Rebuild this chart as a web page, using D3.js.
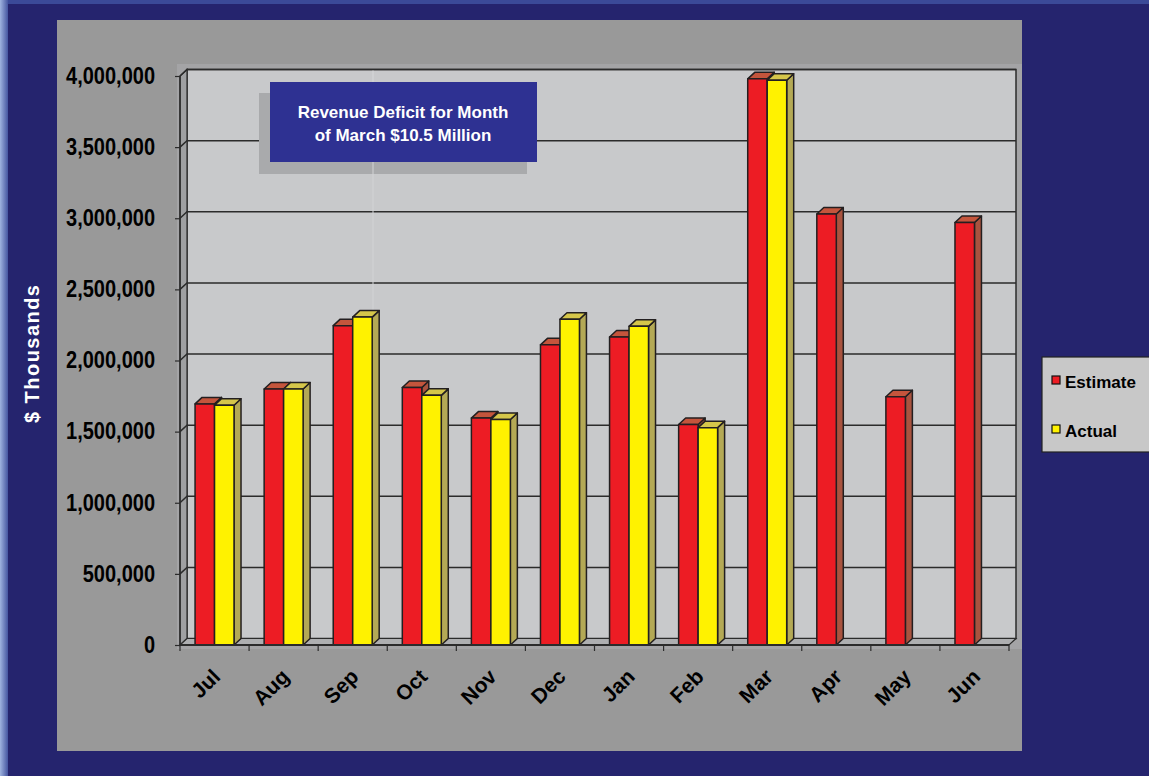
<!DOCTYPE html>
<html>
<head>
<meta charset="utf-8">
<script src="https://cdn.jsdelivr.net/npm/d3@7"></script>
<style>
  body { margin: 0; background: #25246e; }
  svg { display: block; font-family: Arial, "Liberation Sans", sans-serif; font-weight: bold; }
</style>
</head>
<body>
<div id="chart"></div>
<script>
// chart values ($ thousands)
let months = ['Jul', 'Aug', 'Sep', 'Oct', 'Nov', 'Dec', 'Jan', 'Feb', 'Mar', 'Apr', 'May', 'Jun'];
let estimate = [1695000, 1800000, 2245000, 1810000, 1595000, 2110000, 2165000, 1550000, 3980000, 3030000, 1745000, 2970000];
let actual = [1685000, 1800000, 2305000, 1755000, 1585000, 2290000, 2240000, 1528000, 3970000, null, null, null];
let yTicks = [0, 500000, 1000000, 1500000, 2000000, 2500000, 3000000, 3500000, 4000000];
let seriesNames = ['Estimate', 'Actual'];
let noteLines = ['Revenue Deficit for Month', 'of March $10.5 Million'];

let width = 1149,
    height = 776,
    depthX = 7,
    depthY = -6.5;

let colors = {
  Estimate: { front: '#ed1c24', top: '#c4553c', side: '#a9533f' },
  Actual: { front: '#fff200', top: '#d5c64a', side: '#b4a955' }
};

let svg = d3.select('#chart')
  .append('svg')
  .attr('width', width)
  .attr('height', height);

// background with lighter edge strips
let defs = svg.append('defs');
let edge = defs.append('linearGradient').attr('id', 'edge').attr('x1', 0).attr('x2', 1);
edge.append('stop').attr('offset', 0).attr('stop-color', '#9fb3df');
edge.append('stop').attr('offset', 1).attr('stop-color', '#4555a0');

svg.append('rect').attr('width', width).attr('height', height).attr('fill', '#25246e');
svg.append('rect').attr('width', width).attr('height', 4).attr('fill', '#3b4a98');
svg.append('rect').attr('width', 8).attr('height', height).attr('fill', 'url(#edge)');

// gray panel and plot area
svg.append('rect').attr('x', 57).attr('y', 20).attr('width', 965).attr('height', 731).attr('fill', '#999999');
svg.append('rect').attr('x', 177).attr('y', 64).attr('width', 845).attr('height', 585).attr('fill', '#a4a4a6');

let x = d3.scaleBand().domain(months).range([180, 1009]).paddingInner(0).paddingOuter(0);
let y = d3.scaleLinear().domain([0, 4000000]).range([645, 76]);

let x0 = x.range()[0], x1 = x.range()[1];
let yTop = y(4000000), yBase = y(0);

// back wall
svg.append('rect')
  .attr('x', x0 + depthX).attr('y', yTop + depthY)
  .attr('width', x1 - x0).attr('height', yBase - yTop)
  .attr('fill', '#c8c9cb')
  .attr('stroke', '#2b2b2b').attr('stroke-width', 1.5);

// left wall
svg.append('path')
  .attr('d', `M${x0},${yTop}L${x0 + depthX},${yTop + depthY}L${x0 + depthX},${yBase + depthY}L${x0},${yBase}Z`)
  .attr('fill', '#9fa0a2')
  .attr('stroke', '#2b2b2b').attr('stroke-width', 1.2);

// floor
svg.append('path')
  .attr('d', `M${x0},${yBase}L${x0 + depthX},${yBase + depthY}L${x1 + depthX},${yBase + depthY}L${x1},${yBase}Z`)
  .attr('fill', '#aeafb1')
  .attr('stroke', '#2b2b2b').attr('stroke-width', 1.2);

// gridlines
let grid = svg.append('g').attr('fill', 'none').attr('stroke', '#2b2b2b').attr('stroke-width', 1.5);
grid.selectAll('path')
  .data(yTicks.filter(d => d > 0))
  .join('path')
    .attr('d', d => `M${x0},${y(d)}L${x0 + depthX},${y(d) + depthY}H${x1 + depthX}`);

// title note box with shadow
svg.append('rect').attr('x', 259).attr('y', 93).attr('width', 268).attr('height', 81).attr('fill', '#a9aaac');
svg.append('rect').attr('x', 270).attr('y', 82).attr('width', 267).attr('height', 80).attr('fill', '#2e3192');

// faint line on the wall (runs over the shadow too)
svg.append('line')
  .attr('x1', 373).attr('x2', 373)
  .attr('y1', yTop + depthY + 1).attr('y2', 82)
  .attr('stroke', '#d6d7d9').attr('stroke-width', 1);
svg.append('line')
  .attr('x1', 373).attr('x2', 373)
  .attr('y1', 162).attr('y2', yBase + depthY)
  .attr('stroke', '#d2d3d5').attr('stroke-width', 1);

svg.append('g')
  .selectAll('text')
  .data(noteLines)
  .join('text')
    .attr('x', 403)
    .attr('y', (d, i) => 118 + i * 23)
    .attr('text-anchor', 'middle')
    .attr('fill', '#fff')
    .style('font-size', '17px')
    .text(d => d);

// bars
let bw = x.bandwidth() * 0.282;
let off = (x.bandwidth() - 2 * bw) / 2;

let barData = [];
months.forEach((m, i) => {
  [estimate[i], actual[i]].forEach((v, j) => {
    if (v == null) return;
    barData.push({ month: m, series: seriesNames[j], value: v, left: x(m) + off + j * bw });
  });
});

let bars = svg.append('g')
  .attr('stroke', '#231f20')
  .attr('stroke-width', 1.5)
  .attr('stroke-linejoin', 'round')
  .selectAll('g')
  .data(barData)
  .join('g');

bars.append('path')
  .attr('fill', d => colors[d.series].side)
  .attr('d', d => {
    let l = d.left + bw, t = y(d.value);
    return `M${l},${t}L${l + depthX},${t + depthY}L${l + depthX},${yBase + depthY}L${l},${yBase}Z`;
  });

bars.append('path')
  .attr('fill', d => colors[d.series].top)
  .attr('d', d => {
    let l = d.left, t = y(d.value);
    return `M${l},${t}L${l + depthX},${t + depthY}L${l + bw + depthX},${t + depthY}L${l + bw},${t}Z`;
  });

bars.append('rect')
  .attr('fill', d => colors[d.series].front)
  .attr('x', d => d.left)
  .attr('y', d => y(d.value))
  .attr('width', bw)
  .attr('height', d => yBase - y(d.value));

// front axis lines
svg.append('line').attr('x1', x0).attr('x2', x0).attr('y1', yTop).attr('y2', yBase)
  .attr('stroke', '#2b2b2b').attr('stroke-width', 1.5);
svg.append('line').attr('x1', x0).attr('x2', x1).attr('y1', yBase).attr('y2', yBase)
  .attr('stroke', '#2b2b2b').attr('stroke-width', 2);

// y axis
let yAxis = svg.append('g')
  .attr('transform', `translate(${x0},0)`)
  .call(d3.axisLeft(y).tickValues(yTicks).tickSize(5).tickPadding(20).tickFormat(d3.format(',')));
yAxis.select('.domain').remove();
yAxis.selectAll('line').attr('stroke', '#2b2b2b').attr('stroke-width', 1.2);
yAxis.selectAll('text')
  .attr('fill', '#000')
  .attr('transform', 'scale(1,1.15)')
  .style('font-size', '20px')
  .style('font-family', 'Arial, "Liberation Sans", sans-serif')
  .style('font-weight', 'bold');

// x axis ticks on category boundaries
svg.append('g')
  .selectAll('line')
  .data(months.concat(['end']))
  .join('line')
    .attr('x1', (d, i) => x0 + i * x.step())
    .attr('x2', (d, i) => x0 + i * x.step())
    .attr('y1', yBase)
    .attr('y2', yBase + 6)
    .attr('stroke', '#2b2b2b')
    .attr('stroke-width', 1.2);

svg.append('g')
  .selectAll('text')
  .data(months)
  .join('text')
    .attr('text-anchor', 'end')
    .attr('transform', d => `translate(${x(d) + x.bandwidth() / 2 + 7},678) rotate(-45)`)
    .attr('fill', '#000')
    .style('font-size', '21px')
    .text(d => d);

// y axis title
svg.append('text')
  .attr('transform', 'translate(39,354) rotate(-90)')
  .attr('text-anchor', 'middle')
  .attr('fill', '#fff')
  .style('font-size', '20px')
  .attr('textLength', 138)
  .attr('lengthAdjust', 'spacing')
  .text('$ Thousands');

// legend
let legend = svg.append('g');
legend.append('rect')
  .attr('x', 1042).attr('y', 357).attr('width', 120).attr('height', 95)
  .attr('fill', '#c8c8c8').attr('stroke', '#222').attr('stroke-width', 1.2);

let items = legend.selectAll('g')
  .data(seriesNames)
  .join('g')
    .attr('transform', (d, i) => `translate(1052,${376 + i * 49})`);

items.append('rect')
  .attr('width', 8).attr('height', 8)
  .attr('fill', d => colors[d].front)
  .attr('stroke', '#111').attr('stroke-width', 1.2);

items.append('text')
  .attr('x', 13).attr('y', 12)
  .attr('fill', '#000')
  .style('font-size', '17px')
  .text(d => d);
</script>
</body>
</html>
